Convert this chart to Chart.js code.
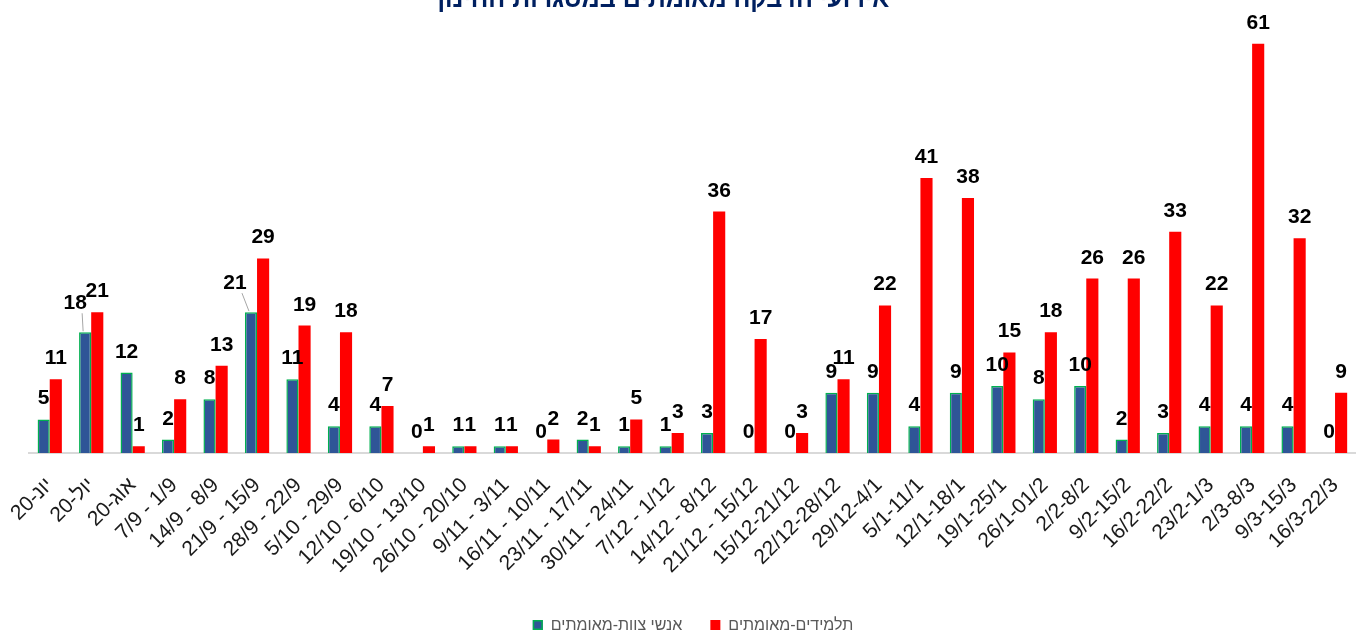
<!DOCTYPE html>
<html>
<head>
<meta charset="utf-8">
<script src="https://cdn.jsdelivr.net/npm/chart.js@4.4.0/dist/chart.umd.min.js"></script>
<style>
  html, body { margin: 0; padding: 0; background: #fff; }
  #wrap { width: 1365px; height: 635px; position: relative; }
</style>
</head>
<body>
<div id="wrap"><canvas id="chart"></canvas></div>
<script>
// week labels, as shown on the axis
const categories = [
  "20-יונ", "20-יול", "20-אוג", "7/9 - 1/9", "14/9 - 8/9", "21/9 - 15/9",
  "28/9 - 22/9", "5/10 - 29/9", "12/10 - 6/10", "19/10 - 13/10", "26/10 - 20/10",
  "9/11 - 3/11", "16/11 - 10/11", "23/11 - 17/11", "30/11 - 24/11", "7/12 - 1/12",
  "14/12 - 8/12", "21/12 - 15/12", "15/12-21/12", "22/12-28/12", "29/12-4/1",
  "5/1-11/1", "12/1-18/1", "19/1-25/1", "26/1-01/2", "2/2-8/2", "9/2-15/2",
  "16/2-22/2", "23/2-1/3", "2/3-8/3", "9/3-15/3", "16/3-22/3"
];

const staffValues = [5, 18, 12, 2, 8, 21, 11, 4, 4, 0, 1, 1, 0, 2, 1, 1, 3, 0, 0, 9, 9, 4, 9, 10, 8, 10, 2, 3, 4, 4, 4, 0];
const studentValues = [11, 21, 1, 8, 13, 29, 19, 18, 7, 1, 1, 1, 2, 1, 5, 3, 36, 17, 3, 11, 22, 41, 38, 15, 18, 26, 26, 33, 22, 61, 32, 9];

const staffLabel = "אנשי צוות-מאומתים";
const studentLabel = "תלמידים-מאומתים";
const titleText = "אירועי הדבקה מאומתים במסגרות החינוך";

const FONT = "'Liberation Sans', Arial, sans-serif";

// title sits mostly above the top edge, as in the source
const titlePlugin = {
  id: "cutTitle",
  afterDraw(chart) {
    const ctx = chart.ctx;
    ctx.save();
    ctx.font = "bold 25px " + FONT;
    ctx.fillStyle = "#002060";
    ctx.textAlign = "center";
    ctx.textBaseline = "alphabetic";
    ctx.fillText(titleText, 660, 7);
    ctx.restore();
  }
};

// value labels above each bar
const valueLabels = {
  id: "valueLabels",
  afterDatasetsDraw(chart) {
    const ctx = chart.ctx;
    const nudge = { "0-1": [-10, -8], "0-5": [-16, -8] };
    ctx.save();
    ctx.font = "bold 21px " + FONT;
    ctx.fillStyle = "#000";
    ctx.textAlign = "center";
    ctx.textBaseline = "alphabetic";
    chart.data.datasets.forEach((ds, di) => {
      const meta = chart.getDatasetMeta(di);
      meta.data.forEach((bar, i) => {
        const n = nudge[di + "-" + i] || [0, 0];
        const x = bar.x + n[0];
        const y = bar.y - 15 + n[1];
        if (n[0] !== 0) {
          ctx.strokeStyle = "#a6a6a6";
          ctx.lineWidth = 1;
          ctx.beginPath();
          ctx.moveTo(x + 7, y + 4);
          ctx.lineTo(bar.x - 2, bar.y - 1);
          ctx.stroke();
        }
        ctx.fillText(String(ds.data[i]), x, y);
      });
    });
    ctx.restore();
  }
};

// legend at the bottom, drawn from the dataset styles
const bottomLegend = {
  id: "bottomLegend",
  afterDraw(chart) {
    const ctx = chart.ctx;
    const box = 10, gapText = 8, gapItem = 28, cy = 625, cx = 693;
    ctx.save();
    ctx.font = "16px " + FONT;
    ctx.textBaseline = "middle";
    ctx.textAlign = "left";
    const items = chart.data.datasets.map(ds => ({ ds, w: ctx.measureText(ds.label).width }));
    let total = 0;
    items.forEach((it, i) => { total += box + gapText + it.w + (i ? gapItem : 0); });
    let x = cx - total / 2;
    items.forEach(it => {
      ctx.fillStyle = it.ds.backgroundColor;
      ctx.fillRect(x, cy - box / 2, box, box);
      if (it.ds.borderWidth) {
        ctx.strokeStyle = it.ds.borderColor;
        ctx.lineWidth = 1.5;
        ctx.strokeRect(x + 0.75, cy - box / 2 + 0.75, box - 1.5, box - 1.5);
      }
      ctx.fillStyle = "#595959";
      ctx.fillText(it.ds.label, x + box + gapText, cy + 1);
      x += box + gapText + it.w + gapItem;
    });
    ctx.restore();
  }
};

new Chart(document.getElementById("chart"), {
  type: "bar",
  data: {
    labels: categories,
    datasets: [
      {
        label: staffLabel,
        data: staffValues,
        backgroundColor: "#2F5597",
        borderColor: "#00B050",
        borderWidth: 1.5,
        barPercentage: 1,
        categoryPercentage: 0.585
      },
      {
        label: studentLabel,
        data: studentValues,
        backgroundColor: "#FF0000",
        borderWidth: 0,
        barPercentage: 1,
        categoryPercentage: 0.585
      }
    ]
  },
  options: {
    responsive: true,
    maintainAspectRatio: false,
    animation: false,
    layout: { padding: { top: 17, left: 29, right: 9, bottom: 30 } },
    plugins: {
      title: { display: false },
      tooltip: { enabled: false },
      legend: { display: false }
    },
    scales: {
      x: {
        grid: { display: false },
        border: { color: "#D9D9D9", width: 2 },
        ticks: {
          autoSkip: false,
          minRotation: 45,
          maxRotation: 45,
          color: "#1a1a1a",
          padding: 12,
          font: { size: 21, family: FONT }
        },
        afterFit(scale) { scale.height = 152; }
      },
      y: {
        display: false,
        min: 0,
        max: 65
      }
    }
  },
  plugins: [valueLabels, titlePlugin, bottomLegend]
});
</script>
</body>
</html>
